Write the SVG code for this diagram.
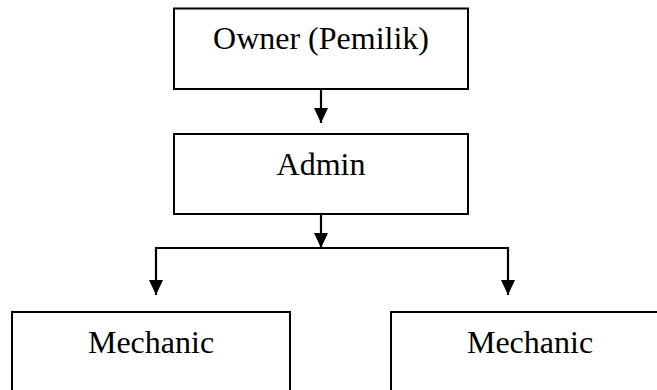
<svg xmlns="http://www.w3.org/2000/svg" width="657" height="390" viewBox="0 0 657 390">
<style>
.box{fill:#fff;stroke:#000;stroke-width:2}
.lbl{font-family:"Liberation Serif","Times New Roman",serif;font-size:32px;fill:#000;text-anchor:middle}
.conn{fill:none;stroke:#000;stroke-width:2.2}
</style>
<defs>
<marker id="ah" markerUnits="userSpaceOnUse" viewBox="0 -7 15 14" refX="15" refY="0" markerWidth="15" markerHeight="14" orient="auto">
<path d="M0,-7 L15,0 L0,7 z" fill="#000"/>
</marker>
</defs>
<rect width="657" height="390" fill="#fff"/>
<g id="owner">
<rect class="box" x="174" y="8.5" width="294" height="80.5"/>
<text class="lbl" x="321" y="48.5">Owner (Pemilik)</text>
</g>
<g id="admin">
<rect class="box" x="174" y="134" width="294" height="80"/>
<text class="lbl" x="321" y="175">Admin</text>
</g>
<g id="mechanic1">
<rect class="box" x="12" y="312" width="278" height="100"/>
<text class="lbl" x="151" y="352.5">Mechanic</text>
</g>
<g id="mechanic2">
<rect class="box" x="391" y="312" width="278" height="100"/>
<text class="lbl" x="530" y="352.5">Mechanic</text>
</g>
<g id="connectors">
<path class="conn" d="M321,89 V123" marker-end="url(#ah)"/>
<path class="conn" d="M321,214 V248" marker-end="url(#ah)"/>
<path class="conn" d="M321,248 H156 V295" marker-end="url(#ah)"/>
<path class="conn" d="M321,248 H508 V295" marker-end="url(#ah)"/>
</g>
</svg>
